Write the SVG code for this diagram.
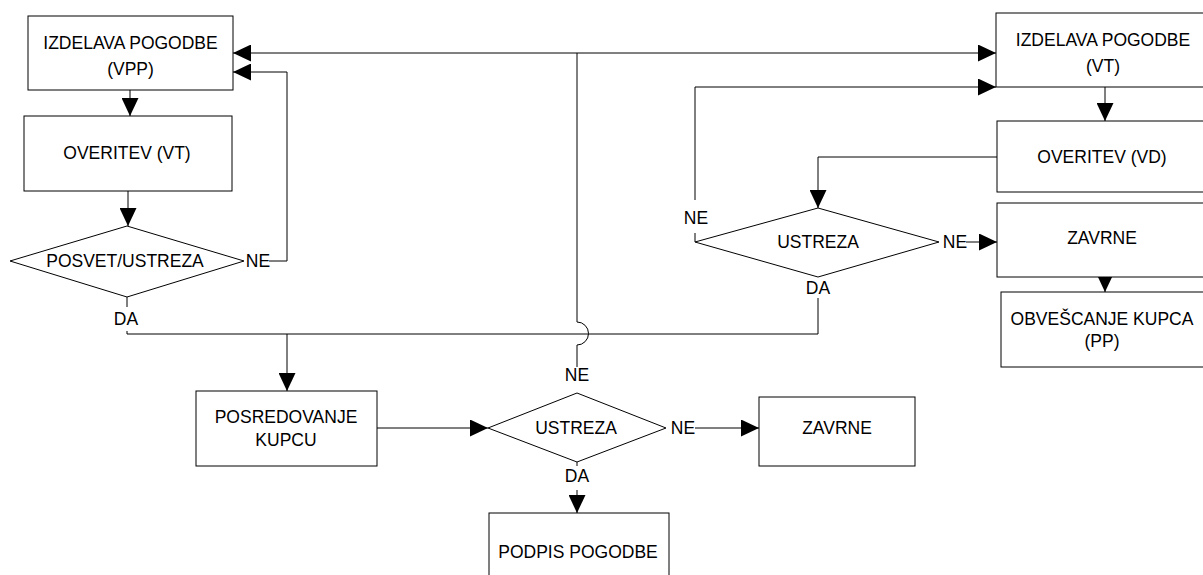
<svg xmlns="http://www.w3.org/2000/svg" width="1203" height="575" viewBox="0 0 1203 575">
  <style>
    .box { fill: #fff; stroke: #000; stroke-width: 1; }
    .dia { fill: #fff; stroke: #000; stroke-width: 1; }
    .t { font-family: "Liberation Sans", Arial, sans-serif; font-size: 17.5px; fill: #000; text-anchor: middle; }
    .ln { fill: none; stroke: #000; stroke-width: 1; }
    .arr { marker-end: url(#head); }
  </style>
  <defs>
    <marker id="head" viewBox="0 0 18 17" refX="18" refY="8.5" markerWidth="18" markerHeight="17" markerUnits="userSpaceOnUse" orient="auto">
      <path d="M0,0 L18,8.5 L0,17 Z" fill="#000"/>
    </marker>
  </defs>
  <rect width="1203" height="575" fill="#fff"/>

  <!-- connectors -->
  <g id="connectors">
    <!-- left column -->
    <path class="ln arr" d="M130,90 V116"/>
    <path class="ln arr" d="M128,191 V226"/>
    <!-- NE loop back to first contract draft -->
    <path class="ln arr" d="M269,261 H287 V72 H233"/>
    <!-- DA branches joining towards mediation -->
    <path class="ln" d="M127,297 V307"/>
    <path class="ln" d="M127,331 V334 H818 V298"/>
    <path class="ln arr" d="M287,334 V391"/>
    <!-- mediation to decision -->
    <path class="ln arr" d="M377,428 H488"/>
    <!-- NE up from decision, with hop over the DA line -->
    <path class="ln" d="M577,367 V345 A11.5,11.5 0 0 0 577,322 V53"/>
    <path class="ln arr" d="M577,53 H233"/>
    <path class="ln arr" d="M577,53 H996"/>
    <!-- NE right to end -->
    <path class="ln arr" d="M695,428 H759"/>
    <!-- DA down to signing -->
    <path class="ln" d="M577,462 V466"/>
    <path class="ln arr" d="M577,490 V513"/>
    <!-- right column -->
    <path class="ln arr" d="M1105,87 V121"/>
    <path class="ln arr" d="M997,157 H818 V208"/>
    <path class="ln" d="M695,242 V233"/>
    <path class="ln arr" d="M695,200 V87 H996"/>
    <path class="ln arr" d="M966,242 H997"/>
    <path class="ln arr" d="M1105,277 V292"/>
  </g>

  <g id="izdelava-vpp">
    <rect class="box" x="28" y="16" width="205" height="74"/>
    <text class="t" x="130.5" y="49">IZDELAVA POGODBE</text>
    <text class="t" x="130.5" y="75">(VPP)</text>
  </g>
  <g id="overitev-vt">
    <rect class="box" x="24" y="116" width="208" height="75"/>
    <text class="t" x="127" y="159">OVERITEV (VT)</text>
  </g>
  <g id="posvet-ustreza">
    <polygon class="dia" points="10,261 127,226 244,261 127,297"/>
    <text class="t" x="125" y="267">POSVET/USTREZA</text>
    <text class="t" x="258" y="267">NE</text>
    <text class="t" x="126" y="325">DA</text>
  </g>
  <g id="posredovanje">
    <rect class="box" x="196" y="391" width="181" height="75"/>
    <text class="t" x="286" y="423">POSREDOVANJE</text>
    <text class="t" x="286" y="446">KUPCU</text>
  </g>
  <g id="ustreza-kupec">
    <polygon class="dia" points="488,428 577,393 666,428 577,462"/>
    <text class="t" x="576" y="434">USTREZA</text>
    <text class="t" x="577" y="381">NE</text>
    <text class="t" x="683" y="434">NE</text>
    <text class="t" x="577" y="482">DA</text>
  </g>
  <g id="zavrne-kupec">
    <rect class="box" x="759" y="397" width="156" height="69"/>
    <text class="t" x="837" y="434">ZAVRNE</text>
  </g>
  <g id="podpis">
    <rect class="box" x="489" y="513" width="180" height="75"/>
    <text class="t" x="578" y="558">PODPIS POGODBE</text>
  </g>
  <g id="izdelava-vt">
    <rect class="box" x="996" y="13" width="220" height="74"/>
    <text class="t" x="1103" y="46">IZDELAVA POGODBE</text>
    <text class="t" x="1103" y="72">(VT)</text>
  </g>
  <g id="overitev-vd">
    <rect class="box" x="997" y="121" width="220" height="71"/>
    <text class="t" x="1102" y="163">OVERITEV (VD)</text>
  </g>
  <g id="ustreza-vd">
    <polygon class="dia" points="695,242 818,208 939,242 818,277"/>
    <text class="t" x="818" y="248">USTREZA</text>
    <text class="t" x="696" y="224">NE</text>
    <text class="t" x="955" y="248">NE</text>
    <text class="t" x="818" y="294">DA</text>
  </g>
  <g id="zavrne-vd">
    <rect class="box" x="997" y="203" width="220" height="74"/>
    <text class="t" x="1102" y="244">ZAVRNE</text>
  </g>
  <g id="obvescanje">
    <rect class="box" x="1001" y="292" width="220" height="75"/>
    <text class="t" x="1102" y="325">OBVEŠCANJE KUPCA</text>
    <text class="t" x="1102" y="347">(PP)</text>
  </g>
</svg>
